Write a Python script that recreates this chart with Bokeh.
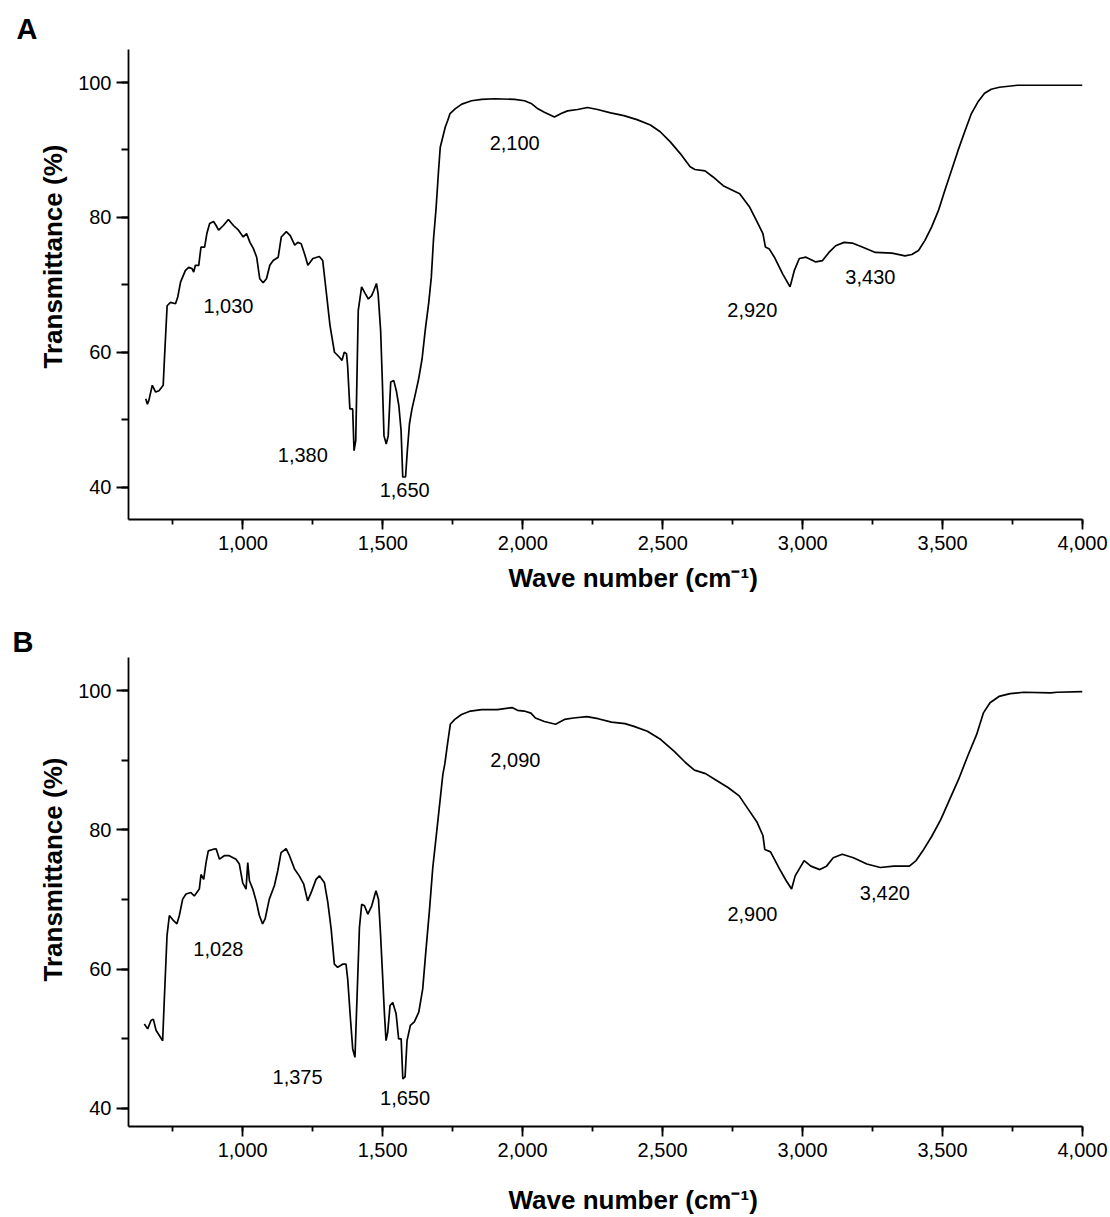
import numpy as np
from bokeh.plotting import figure
from bokeh.models import Range1d, FixedTicker, NumeralTickFormatter, Label, Title
from bokeh.layouts import column
from bokeh.embed import file_html
from bokeh.resources import INLINE

FONT = "Liberation Sans"

# ---------------- data ----------------
wn_a = [652.5, 658.5, 664, 676, 688, 700, 715, 720, 729, 741, 759, 767, 777, 794, 806, 818, 824, 830, 842,
        850, 863, 871, 881, 895, 904, 913, 930, 948, 966, 984, 1001, 1013, 1025, 1037, 1049, 1060, 1072,
        1084, 1096, 1108, 1126, 1137, 1155, 1169, 1185, 1196, 1208, 1220, 1232, 1250, 1273, 1285, 1297,
        1311, 1327, 1344, 1354, 1362, 1370, 1374, 1382, 1392, 1397, 1403, 1412, 1424, 1437, 1448, 1460,
        1468, 1477, 1483, 1492, 1498, 1504, 1512, 1519, 1528, 1539, 1548, 1557, 1565, 1571, 1581, 1587,
        1595, 1604, 1616, 1628, 1640, 1652, 1664, 1673, 1681, 1690, 1699, 1705, 1717, 1723, 1732, 1740,
        1758, 1782, 1817, 1853, 1900, 1971, 2006, 2030, 2054, 2077, 2113, 2137, 2160, 2196, 2231, 2267,
        2314, 2361, 2408, 2456, 2491, 2527, 2562, 2598, 2615, 2651, 2680, 2716, 2751, 2775, 2811, 2840,
        2858, 2867, 2881, 2899, 2929, 2955, 2970, 2988, 3012, 3047, 3071, 3094, 3118, 3148, 3177, 3213,
        3260, 3319, 3366, 3390, 3414, 3437, 3461, 3485, 3508, 3532, 3555, 3579, 3603, 3626, 3650, 3674,
        3703, 3768, 3887, 4000]
t_a = [53.1, 52.3, 52.9, 55.1, 54.1, 54.3, 55.1, 59.5, 66.9, 67.4, 67.2, 68.2, 70.4, 72.1, 72.6, 72.4, 71.9, 72.9, 72.9,
       75.6, 75.6, 77.6, 79.1, 79.4, 78.8, 78.1, 78.8, 79.7, 78.8, 78.1, 77.1, 77.6, 76.3, 75.4, 74.1, 70.9, 70.3,
       70.9, 72.9, 73.6, 74.1, 77.1, 77.9, 77.3, 75.9, 76.3, 76.1, 74.6, 72.9, 73.9, 74.2, 73.6, 69.2,
       64.0, 60.0, 59.3, 58.8, 60.0, 59.8, 58.0, 51.6, 51.6, 45.4, 46.9, 66.2, 69.7, 68.7, 67.9, 68.4,
       69.2, 70.2, 68.7, 63.2, 55.8, 47.6, 46.4, 47.6, 55.6, 55.8, 54.3, 52.1, 48.4, 41.5, 41.5, 45.2,
       49.4, 51.6, 53.8, 56.1, 59.0, 63.5, 67.4, 71.1, 76.8, 81.3, 87.0, 90.4, 92.4, 93.4, 94.4, 95.4,
       96.1, 96.8, 97.3, 97.5, 97.6, 97.5, 97.3, 96.9, 96.1, 95.6, 94.9, 95.4, 95.8, 96.0, 96.3, 96.0,
       95.5, 95.1, 94.5, 93.7, 92.7, 91.2, 89.5, 87.5, 87.1, 86.9, 86.0, 84.7, 84.0, 83.5, 81.5, 79.1,
       77.6, 75.6, 75.3, 74.1, 71.6, 69.7, 72.1, 73.9, 74.1, 73.4, 73.6, 74.8, 75.8, 76.3, 76.2, 75.6,
       74.8, 74.7, 74.3, 74.5, 75.1, 76.6, 78.6, 81.0, 84.0, 87.0, 89.9, 92.7, 95.4, 97.1, 98.4, 99.0,
       99.3, 99.6, 99.6, 99.6]

wn_b = [648.6, 660.5, 672.4, 680.7, 690.3, 702.2, 714, 720, 729.6, 738, 753, 765, 773.6, 785.5, 797.5, 815, 827,
        845, 851, 860.6, 869, 877, 893, 905, 917, 934, 952, 976, 988, 1000, 1012, 1018, 1024, 1036, 1048,
        1059.5, 1071, 1080, 1095, 1113, 1125, 1137, 1155, 1167, 1185, 1202, 1218, 1232, 1246.5, 1262, 1274,
        1292, 1304, 1316, 1327.4, 1339, 1357, 1369, 1375, 1385, 1393, 1401, 1408.4, 1417, 1425, 1435, 1447,
        1461, 1476, 1485, 1492, 1500, 1506, 1512, 1518, 1526.3, 1536, 1548, 1557, 1566, 1572, 1580, 1587,
        1599, 1613, 1629, 1643, 1655, 1667, 1679, 1691, 1703, 1715, 1722, 1732, 1741.6, 1757.6, 1781.6,
        1813.6, 1853.6, 1909.6, 1962, 1981.6, 2005.6, 2029.6, 2045.6, 2077.6, 2117.6, 2149.6, 2181.6,
        2229.6, 2269.6, 2317.6, 2365.6, 2397.6, 2445.6, 2493.6, 2541.6, 2581.6, 2613.6, 2653.6, 2685.6,
        2733.6, 2773.6, 2805.6, 2837.6, 2858.4, 2865, 2885.6, 2917.6, 2941.6, 2960.8, 2973.6, 3005.6,
        3029.6, 3061.6, 3085.6, 3109.6, 3141.6, 3181.6, 3229.6, 3277.6, 3325.6, 3381.6, 3405.6, 3429.6,
        3461.6, 3493.6, 3525.6, 3557.6, 3589.6, 3621.6, 3645.6, 3669.6, 3701.6, 3741.6, 3789.6, 3885.6,
        3909.6, 4000]
t_b = [52.1, 51.4, 52.6, 52.8, 51.2, 50.45, 49.7, 55.7, 64.8, 67.7, 66.95, 66.5, 67.7, 70.05, 70.8, 71.0, 70.5,
       71.5, 73.6, 72.9, 75.3, 77.0, 77.2, 77.3, 75.8, 76.3, 76.3, 75.8, 75.1, 72.4, 71.5, 75.3, 72.7, 71.5, 69.8,
       67.7, 66.5, 67.2, 70.05, 71.97, 74.1, 76.75, 77.3, 76.3, 74.4, 73.4, 72.2, 69.8, 71.2, 72.9, 73.4,
       72.4, 69.6, 65.75, 60.7, 60.25, 60.7, 60.7, 58.6, 52.8, 48.5, 47.3, 55.95, 66.0, 69.3, 69.1, 67.9,
       69.1, 71.25, 70.05, 65.3, 58.8, 53.8, 49.7, 50.9, 54.75, 55.2, 53.56, 49.97, 49.97, 44.2, 44.5, 49.7,
       51.9, 52.4, 53.8, 57.15, 62.9, 68.4, 74.6, 79.0, 83.5, 88.0, 89.5, 92.5, 95.2, 95.9, 96.6,
       97.1, 97.3, 97.3, 97.6, 97.2, 97.1, 96.8, 96.1, 95.6, 95.2, 95.9, 96.1,
       96.3, 96.0, 95.5, 95.3, 94.9, 94.2, 93.0, 91.3, 89.7, 88.6, 88.1, 87.3,
       86.1, 84.9, 83.0, 81.1, 79.2, 77.2, 76.85, 74.4, 72.7, 71.5, 73.4, 75.6,
       74.8, 74.3, 74.8, 76.0, 76.5, 76.0, 75.1, 74.6, 74.8, 74.8, 75.6, 77.0,
       79.1, 81.5, 84.4, 87.3, 90.6, 93.7, 96.8, 98.3, 99.2, 99.6, 99.8, 99.7,
       99.8, 99.9]

peak_text_a = ["1,030", "1,380", "1,650", "2,100", "2,920", "3,430"]
peak_text_b = ["1,028", "1,375", "1,650", "2,090", "2,900", "3,420"]

x_major = [1000, 1500, 2000, 2500, 3000, 3500, 4000]
x_minor = [750, 1000, 1250, 1500, 1750, 2000, 2250, 2500, 2750, 3000, 3250, 3500, 3750, 4000]
y_major = [40, 60, 80, 100]
y_minor = [40, 50, 60, 70, 80, 90, 100]

x_title = "Wave number (cm\u207b\u00b9)"
y_title = "Transmittance (%)"

PAGE_W = 1110


def make_panel(letter, wn, t, peak_texts, peak_xy, xr, yr, height, bl, bt, bb, br,
               xt_offset, xt_standoff, xt_pad, yt_offset, letter_offset, letter_standoff):
    p = figure(width=PAGE_W, height=height, output_backend="svg", toolbar_location=None,
               x_range=Range1d(*xr), y_range=Range1d(*yr),
               min_border_left=bl, min_border_right=br, min_border_top=bt, min_border_bottom=bb)
    p.outline_line_color = None
    p.xgrid.visible = False
    p.ygrid.visible = False
    p.background_fill_color = "white"
    p.border_fill_color = "white"

    p.line(wn, t, line_color="black", line_width=1.7)

    for ax in (p.xaxis[0], p.yaxis[0]):
        ax.axis_line_color = "black"
        ax.axis_line_width = 1.8
        ax.major_tick_line_color = "black"
        ax.minor_tick_line_color = "black"
        ax.major_tick_line_width = 1.8
        ax.minor_tick_line_width = 1.8
        ax.major_tick_in = 0
        ax.minor_tick_in = 0
        ax.major_label_text_font = FONT
        ax.major_label_text_font_size = "20px"
        ax.major_label_text_color = "black"
    p.xaxis.ticker = FixedTicker(ticks=x_major, minor_ticks=x_minor)
    p.xaxis.formatter = NumeralTickFormatter(format="0,0")
    p.xaxis.major_tick_out = 10
    p.xaxis.minor_tick_out = 5
    p.xaxis.major_label_standoff = 6
    if xt_pad:
        # invisible spacer so the title below sits lower without doubling its standoff
        p.xaxis.axis_label = " "
        p.xaxis.axis_label_text_font_size = "14px"
        p.xaxis.axis_label_standoff = xt_pad
    p.yaxis.ticker = FixedTicker(ticks=y_major, minor_ticks=y_minor)
    p.yaxis.major_tick_out = 12
    p.yaxis.minor_tick_out = 7
    p.yaxis.major_label_standoff = 5

    for txt, (x, y) in zip(peak_texts, peak_xy):
        p.add_layout(Label(x=x, y=y, text=txt, text_font=FONT, text_font_size="20px",
                           text_align="center", text_baseline="middle", text_color="black"))

    p.add_layout(Title(text=x_title, align="left", offset=xt_offset, standoff=xt_standoff,
                       vertical_align="middle", text_font=FONT, text_font_size="26px",
                       text_font_style="bold", text_color="black"), "below")
    p.add_layout(Title(text=y_title, align="left", offset=yt_offset, standoff=14,
                       vertical_align="middle", text_font=FONT, text_font_size="26px",
                       text_font_style="bold", text_color="black"), "left")
    p.add_layout(Title(text=letter, align="left", offset=letter_offset, standoff=letter_standoff,
                       vertical_align="bottom", text_font=FONT, text_font_size="29px",
                       text_font_style="bold", text_color="black"), "above")
    return p


peak_xy_a = [(948, 66.9), (1214, 44.8), (1578, 39.6), (1971, 91.0), (2820, 66.2), (3242, 71.1)]
peak_xy_b = [(913, 62.9), (1196, 44.5), (1580, 41.4), (1974, 90.1), (2821, 67.9), (3294, 71.0)]

pA = make_panel("A", wn_a, t_a, peak_text_a, peak_xy_a, (591, 4000), (35.2, 104.9),
                height=618, bl=121, bt=49, bb=99, br=28,
                xt_offset=380, xt_standoff=18, xt_pad=0, yt_offset=151,
                letter_offset=-112, letter_standoff=10)
pB = make_panel("B", wn_b, t_b, peak_text_b, peak_xy_b, (592, 4000), (37.36, 104.8),
                height=597, bl=128, bt=39, bb=88, br=28,
                xt_offset=380, xt_standoff=0, xt_pad=5, yt_offset=145,
                letter_offset=-116, letter_standoff=0)

layout = column(pA, pB, spacing=0)
open("out.html", "w").write(file_html(layout, INLINE))
